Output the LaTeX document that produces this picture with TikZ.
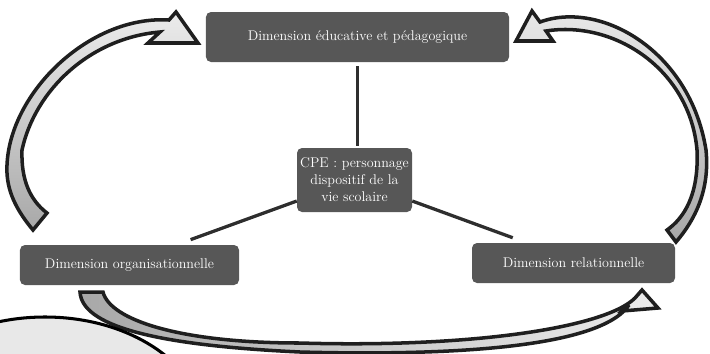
\documentclass[tikz,border=0pt]{standalone}
\usepackage{tikz}
\usetikzlibrary{calc}
\tikzset{
    dimbox/.style={
        fill=black!66,
        rounded corners=0.15cm,
        text=white,
        align=center,
        inner sep=1pt,
        font=\fontsize{12}{14.5}\selectfont
    },
    link/.style={
        draw=black!82,
        line width=2.8pt
    },
    bigarrow/.style={
        draw=black!88,
        line width=3pt
    }
}

\begin{document}
\begin{tikzpicture}[x=0.03cm, y=-0.03cm]
  \useasboundingbox (0,0) rectangle (710,353);

  % Curved arrows
  \draw[bigarrow, top color=gray!15, bottom color=gray!68]
    (33,230) .. controls (12,205) and (6,185) .. (7,165)
    .. controls (10,92) and (90,15) .. (169,20)
    -- (176,12) -- (198,43) -- (148,43) -- (160,32)
    .. controls (90,38) and (35,90) .. (22,150)
    .. controls (21,180) and (30,200) .. (47,213) -- cycle;
  \draw[bigarrow, top color=gray!15, bottom color=gray!68]
    (676,242) .. controls (695,220) and (710,190) .. (706,150)
    .. controls (690,50) and (600,0) .. (540,22)
    -- (532,11) -- (516,41) -- (553,41) -- (546,31)
    .. controls (615,20) and (690,70) .. (697,150)
    .. controls (699,195) and (684,218) .. (667,230) -- cycle;
  \draw[bigarrow, left color=gray!68, right color=gray!15]
    (80,292) .. controls (82,325) and (150,345) .. (300,352)
    .. controls (450,356) and (600,348) .. (629,305)
    -- (622,311) -- (658,308) -- (642,290) -- (635,298)
    .. controls (605,328) and (470,348) .. (300,343)
    .. controls (180,343) and (110,320) .. (103,292) -- cycle;

  % Callout at the bottom left
  \begin{scope}
    \clip (0,0) rectangle (710,353);
    \draw[line width=2.6pt, fill=gray!18] (45,430) ellipse [x radius=4.8cm, y radius=3.39cm];
  \end{scope}

  % Dimensions
  \node[dimbox, minimum width=9.09cm, minimum height=1.5cm] (edu) at (357.5,37) {Dimension éducative et pédagogique};
  \node[dimbox, minimum width=3.45cm, minimum height=1.92cm] (cpe) at (354.5,180) {CPE : personnage\\dispositif de la\\vie scolaire};
  \node[dimbox, minimum width=6.57cm, minimum height=1.2cm] (org) at (129.5,265) {Dimension organisationnelle};
  \node[dimbox, minimum width=6.09cm, minimum height=1.2cm] (rel) at (573.5,263) {Dimension relationnelle};

  % Links
  \draw[link, shorten <=0.12cm, shorten >=0.06cm] (edu.south) -- (edu.south |- cpe.north);
  \draw[link, shorten >=0.45cm] (cpe.200) -- ($(org.north)+(47,0)$);
  \draw[link, shorten >=0.44cm] (cpe.340) -- ($(rel.north)+(-47,0)$);
\end{tikzpicture}
\end{document}
